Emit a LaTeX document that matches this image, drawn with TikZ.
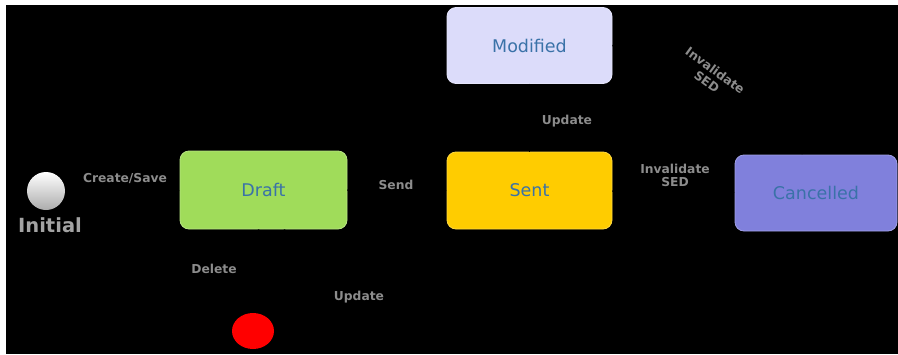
\documentclass[tikz,border=0pt]{standalone}
\usepackage{fontspec}
\setmainfont{DejaVu Sans}
\usetikzlibrary{arrows.meta, shapes.geometric}

\definecolor{draftgreen}{HTML}{A0DC5A}
\definecolor{sentyellow}{HTML}{FFCC00}
\definecolor{modlilac}{HTML}{DCDCFA}
\definecolor{cancelblue}{HTML}{8080DC}
\definecolor{statetext}{HTML}{3A72A8}
\definecolor{labelgray}{HTML}{8C8C8C}

\begin{document}
\begin{tikzpicture}[x=1pt, y=-1pt, >=Stealth,
        state/.style={rounded corners=9pt, minimum width=165pt, minimum height=76pt,
            text=statetext, font=\fontsize{17.5}{20}\selectfont,
            fill=#1, draw=#1!75!white, line width=0.8pt},
        trans/.style={text=labelgray, font=\fontsize{12.3}{13}\selectfont\bfseries,
            align=center, inner sep=0pt},
        conn/.style={->, black, line width=1.5pt}]

        % 背景: 左上白边, 其余黑色
        \fill[white] (0,0) rectangle (898,354);
        \fill[black] (6,5) rectangle (898,354);
        \useasboundingbox (0,0) rectangle (898,354);

        % 初始状态和终止状态
        \node[circle, minimum size=38pt, inner sep=0pt, top color=white, bottom color=gray!65] (init) at (46,191) {};
        \node[text=labelgray!80!white, font=\fontsize{19.5}{21}\selectfont\bfseries] (initname) at (50,225) {Initial};
        \node[ellipse, minimum width=42pt, minimum height=36pt, inner sep=0pt, fill=red] (final) at (253,331) {};

        % 四个状态
        \node[state=modlilac] (modified) at (529.5,45.5) {Modified};
        \node[state=draftgreen, minimum width=167pt, minimum height=78pt] (draft) at (263.5,190) {Draft};
        \node[state=sentyellow, minimum height=77pt] (sent) at (529.5,190.5) {Sent};
        \node[state=cancelblue, minimum width=162pt] (cancelled) at (816,193) {Cancelled};

        % 状态转换 (黑色箭头)
        \draw[conn] (init) -- (draft);
        \draw[conn] (draft) -- (sent);
        \draw[conn] (sent) -- (modified);
        \draw[conn] (sent) -- (cancelled);
        \draw[conn] (modified.east) to[out=0, in=90] (cancelled.110);
        \draw[conn] (draft.-97) -- (final);
        \draw[conn] (draft.-62) to[out=-80, in=-20, looseness=2.5] (draft.-25);

        % 转换标签
        \node[trans] (lcreate) at (125,179) {Create/Save};
        \node[trans] (lsend) at (396,185) {Send};
        \node[trans] (lupdate) at (567,121) {Update};
        \node[trans] (linvalid) at (675,175) {Invalidate\\SED};
        \node[trans, rotate=-36, font=\fontsize{12.3}{14}\selectfont\bfseries] (linvalidmod) at (711,76) {Invalidate\\SED};
        \node[trans] (ldelete) at (214,269) {Delete};
        \node[trans] (lupdatedraft) at (359,297) {Update};

    \end{tikzpicture}
\end{document}
